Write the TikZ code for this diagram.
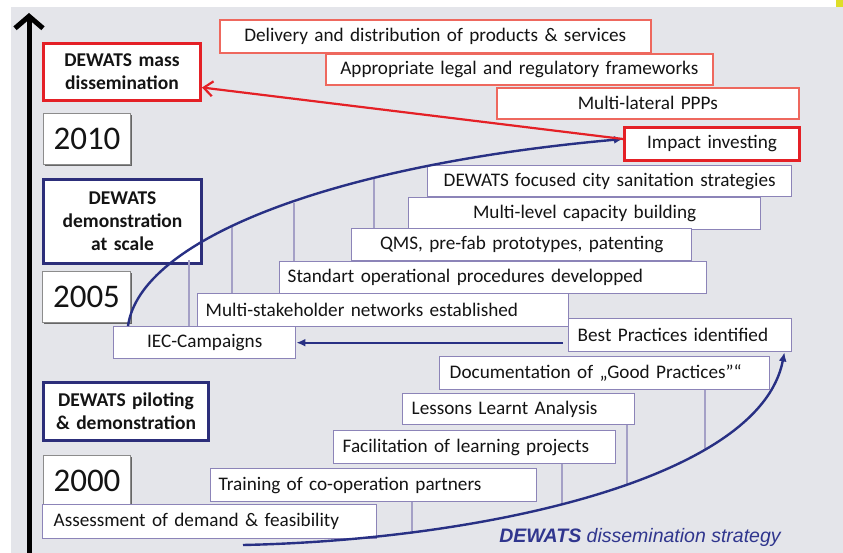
\documentclass[tikz,border=0pt]{standalone}
\usepackage{fontspec}
\setmainfont{Carlito}
\newfontfamily\arialfont{Liberation Sans}
\usetikzlibrary{arrows.meta,calc,shadows}
\definecolor{bggray}{RGB}{228,229,234}
\definecolor{redA}{RGB}{228,32,38}
\definecolor{redB}{RGB}{238,104,94}
\definecolor{navy}{RGB}{44,46,122}
\definecolor{curveblue}{RGB}{40,48,132}
\definecolor{lav}{RGB}{140,132,184}
\definecolor{lavline}{RGB}{164,160,198}
\definecolor{txt}{RGB}{20,20,20}
\definecolor{yel}{RGB}{222,222,40}
\definecolor{stratblue}{RGB}{48,54,142}
\tikzset{
  box/.style={draw, fill=white, anchor=north west, inner ysep=0pt, text=txt,
    font=\fontsize{19.2}{23}\selectfont},
  redbox/.style={box, draw=redB, line width=1.6pt},
  redthick/.style={box, draw=redA, line width=3pt},
  lavbox/.style={box, draw=lav, line width=1.4pt},
  phase/.style={box, line width=3pt, font=\bfseries\fontsize{19.5}{23}\selectfont},
  yearbox/.style={box, draw=black!45, line width=1pt, inner xsep=0pt,
    font=\fontsize{33}{36}\selectfont,
    drop shadow={shadow xshift=1.6pt, shadow yshift=-1.6pt, fill=black!60, opacity=1}},
  tick/.style={draw=lavline, line width=1.3pt},
  curve/.style={draw=curveblue, line width=2.4pt},
  tipb/.style={-{Latex[length=9pt,width=8pt]}}
}
\begin{document}
\begin{tikzpicture}[x=1pt,y=-1pt]
\useasboundingbox (0,0) rectangle (843,553);
\fill[white] (0,0) rectangle (843,553);
\fill[bggray] (11,7) rectangle (843,553);
\fill[yel] (836,0) rectangle (843,7);

% axis
\coordinate (axb) at (29,553);
\coordinate (axt) at (29,13);
\draw[line width=5pt, -{Straight Barb[length=12pt,width=28pt]}] (axb) -- (axt);

% phase boxes and years
\node[phase, draw=redA, minimum width=157, minimum height=57, text width=150, align=center, inner xsep=3.5pt] (mass) at (42,42) {DEWATS mass\\dissemination};
\node[yearbox, minimum width=87, minimum height=51, text width=87, align=center] (y2010) at (43,113) {2010};
\node[phase, draw=navy, minimum width=158, minimum height=84, text width=150, align=center, inner xsep=4pt] (demo) at (42,178) {DEWATS\\demonstration\\at scale};
\node[yearbox, minimum width=88, minimum height=51, text width=88, align=center] (y2005) at (42,271) {2005};
\node[phase, draw=navy, minimum width=165, minimum height=58, text width=157, align=center, inner xsep=4pt] (pilot) at (42,381) {DEWATS piloting\\\& demonstration};
\node[yearbox, minimum width=87, minimum height=50, text width=87, align=center] (y2000) at (43,455) {2000};

\coordinate (bstart) at (243,545);

% activity boxes
\node[redbox, minimum height=33, text width=415, inner xsep=8pt, align=center] (deliv) at (219,19) {Delivery and distribution of products \& services};
\node[redbox, minimum height=31, text width=371, inner xsep=8pt, align=center] (legal) at (325,53) {Appropriate legal and regulatory frameworks};
\node[redbox, minimum height=31, text width=286, inner xsep=8pt, align=center] (ppp) at (496,87) {Multi-lateral PPPs};
\node[redthick, minimum height=33, text width=159, inner xsep=8pt, align=center] (impact) at (623,126) {Impact investing};

\node[lavbox, minimum height=31, text width=348, inner xsep=8pt, align=center] (city) at (427,165) {DEWATS focused city sanitation strategies};
\node[lavbox, minimum height=32, text width=336, inner xsep=8pt, align=center] (cap) at (408,197) {Multi-level capacity building};
\node[lavbox, minimum height=32, text width=324, inner xsep=8pt, align=center] (qms) at (351,228) {QMS, pre-fab prototypes, patenting};
\node[lavbox, minimum height=32, text width=411, inner xsep=8pt, align=left] (std) at (279,261) {Standart operational procedures developped};
\node[lavbox, minimum height=33, text width=355, inner xsep=8pt, align=left] (ms) at (197,293) {Multi-stakeholder networks established};
\node[lavbox, minimum height=32, text width=166, inner xsep=8pt, align=center] (iec) at (113,326) {IEC-Campaigns};
\node[lavbox, minimum height=33, text width=205, inner xsep=9pt, align=left] (best) at (568,318) {Best Practices identified};
\node[lavbox, minimum height=33, text width=310, inner xsep=10pt, align=left] (doc) at (439,356) {Documentation of „Good Practices"“};
\node[lavbox, minimum height=31, text width=214, inner xsep=9pt, align=left] (lessons) at (402,393) {Lessons Learnt Analysis};
\node[lavbox, minimum height=33, text width=264, inner xsep=9pt, align=left] (facil) at (333,430) {Facilitation of learning projects};
\node[lavbox, minimum height=33, text width=310, inner xsep=8pt, align=left] (train) at (210,468) {Training of co-operation partners};
\node[lavbox, minimum height=34, text width=312, inner xsep=11pt, align=left] (assess) at (42,504) {Assessment of demand \&  feasibility};

% ticks
\draw[tick] ([xshift=76pt]iec.north west) -- ++(0,-66);
\draw[tick] ([xshift=35pt]ms.north west) -- ++(0,-67);
\draw[tick] ([xshift=15pt]std.north west) -- ++(0,-58);
\draw[tick] ([xshift=23pt]qms.north west) -- ++(0,-49);
\draw[tick] ([xshift=202pt]train.south west) -- ++(0,32);
\draw[tick] ([xshift=229pt]facil.south west) -- ++(0,41);
\draw[tick] ([xshift=225pt]lessons.south west) -- ++(0,60);
\draw[tick] ([xshift=266pt]doc.south west) -- ++(0,59);

% curves and arrows
\draw[curve, tipb] ($(iec.north west)+(15,0)$) .. controls (140,240) and (330,165) .. ($(impact.west)+(0,-5)$);
\draw[draw=redA, line width=2.2pt, -{Straight Barb[length=9pt,width=15pt]}] ($(impact.west)+(0,-5)$) -- ($(mass.east)+(0,15.5)$);
\draw[curve, line width=2pt, tipb] ($(iec.east -| best.west)+(-5,0)$) -- (iec.east);
\draw[curve, tipb] (bstart) .. controls (480,540) and (760,480) .. ($(best.south east)+(-8,0)$);

\node[font=\arialfont\itshape\fontsize{19.5}{21}\selectfont, text=stratblue] (strat) at (640,537) {\bfseries DEWATS \mdseries dissemination strategy};
\end{tikzpicture}
\end{document}
